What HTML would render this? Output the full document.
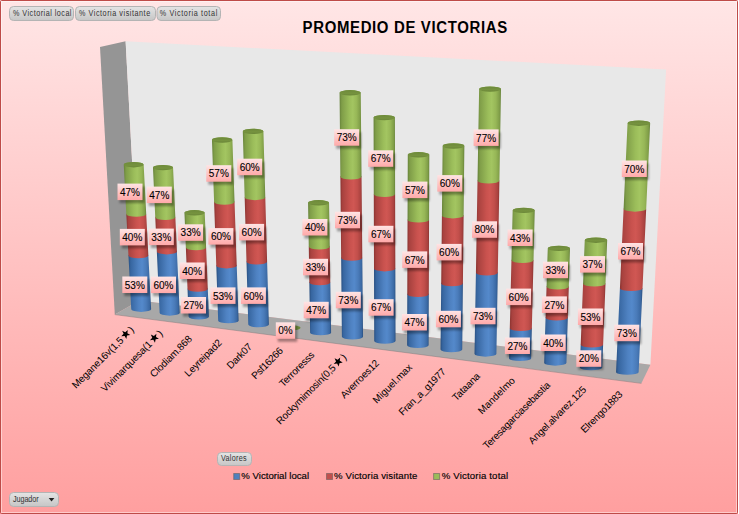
<!DOCTYPE html><html><head><meta charset="utf-8"><style>
html,body{margin:0;padding:0;background:#fff;}
svg{display:block;font-family:"Liberation Sans",sans-serif;}
</style></head><body>
<svg width="739" height="514" viewBox="0 0 739 514">
<defs>
<linearGradient id="bg" x1="0" y1="0" x2="0" y2="1">
<stop offset="0" stop-color="#ffe6e6"/><stop offset="1" stop-color="#ff9f9f"/></linearGradient>
<linearGradient id="btn" x1="0" y1="0" x2="0" y2="1">
<stop offset="0" stop-color="#e4e4e4"/><stop offset="1" stop-color="#c6c6c6"/></linearGradient>
<linearGradient id="lbl" x1="0" y1="0" x2="0" y2="1">
<stop offset="0" stop-color="#ffe4e4"/><stop offset="1" stop-color="#ffa9a9"/></linearGradient>
<filter id="sh" x="-30%" y="-30%" width="170%" height="190%"><feGaussianBlur stdDeviation="1.3"/></filter>

<linearGradient id="cb" x1="0" y1="0" x2="1" y2="0"><stop offset="0" stop-color="#294f80"/><stop offset="0.1" stop-color="#3766a0"/><stop offset="0.45" stop-color="#4f82c2"/><stop offset="0.6" stop-color="#5489cb"/><stop offset="0.78" stop-color="#4a7bb9"/><stop offset="0.93" stop-color="#3a68a2"/><stop offset="1" stop-color="#294f80"/></linearGradient>
<linearGradient id="cr" x1="0" y1="0" x2="1" y2="0"><stop offset="0" stop-color="#8a3431"/><stop offset="0.1" stop-color="#a8423f"/><stop offset="0.45" stop-color="#c9524e"/><stop offset="0.6" stop-color="#d05753"/><stop offset="0.78" stop-color="#c24f4b"/><stop offset="0.93" stop-color="#a9423f"/><stop offset="1" stop-color="#8a3431"/></linearGradient>
<linearGradient id="cg" x1="0" y1="0" x2="1" y2="0"><stop offset="0" stop-color="#66823a"/><stop offset="0.1" stop-color="#7f9d48"/><stop offset="0.45" stop-color="#9bbd5a"/><stop offset="0.6" stop-color="#a3c561"/><stop offset="0.78" stop-color="#97b757"/><stop offset="0.93" stop-color="#809e48"/><stop offset="1" stop-color="#66823a"/></linearGradient>
<linearGradient id="tg" x1="0" y1="0" x2="0" y2="1"><stop offset="0" stop-color="#6c883a"/><stop offset="0.6" stop-color="#76933f"/><stop offset="1" stop-color="#6a8638"/></linearGradient>
</defs>
<rect x="0" y="0" width="739" height="514" fill="url(#bg)"/>
<rect x="1.5" y="1.5" width="735" height="511" fill="none" stroke="#fff" stroke-opacity="0.45" stroke-width="1"/>
<rect x="0.5" y="0.5" width="737" height="513" rx="1" fill="none" stroke="#be4b48" stroke-width="1"/>
<rect x="738" y="0" width="1" height="514" fill="#fff"/>
<polygon points="100,47 125.6,41.3 139.6,300.5 114.8,314.5" fill="#959595"/>
<polygon points="125.6,41.3 666.1,69.6 650.4,364.8 139.6,300.5" fill="#e8e8e8"/>
<polygon points="139.6,300.5 650.4,364.8 641.4,383.3 114.8,314.5" fill="#a8a8a8"/>
<line x1="114.8" y1="314.6" x2="641.4" y2="383.4" stroke="#7a7a7a" stroke-width="0.8" stroke-opacity="0.6"/>
<path d="M128.46,255.47 A9.95,2.7 0 0 1 148.36,255.47 L151.14,309.21 A9.95,2.7 0 0 1 131.24,309.21 Z" fill="url(#cb)"/>
<path d="M126.32,214.14 A9.95,2.7 0 0 1 146.22,214.14 L148.36,255.47 A9.95,2.7 0 0 1 128.46,255.47 Z" fill="url(#cr)"/>
<path d="M123.76,164.70 A9.95,2.7 0 0 1 143.66,164.70 L146.22,214.14 A9.95,2.7 0 0 1 126.32,214.14 Z" fill="url(#cg)"/>
<ellipse cx="133.71" cy="164.70" rx="9.95" ry="2.7" fill="url(#tg)"/>
<path d="M156.84,251.68 A10.04,2.7 0 0 1 176.92,251.68 L179.74,312.96 A10.04,2.7 0 0 1 159.66,312.96 Z" fill="url(#cb)"/>
<path d="M155.26,217.34 A10.04,2.7 0 0 1 175.34,217.34 L176.92,251.68 A10.04,2.7 0 0 1 156.84,251.68 Z" fill="url(#cr)"/>
<path d="M152.97,167.60 A10.04,2.7 0 0 1 173.05,167.60 L175.34,217.34 A10.04,2.7 0 0 1 155.26,217.34 Z" fill="url(#cg)"/>
<ellipse cx="163.01" cy="167.60" rx="10.04" ry="2.7" fill="url(#tg)"/>
<path d="M187.53,289.12 A10.13,2.7 0 0 1 207.79,289.12 L208.90,316.77 A10.13,2.7 0 0 1 188.64,316.77 Z" fill="url(#cb)"/>
<path d="M185.86,247.59 A10.13,2.7 0 0 1 206.12,247.59 L207.79,289.12 A10.13,2.7 0 0 1 187.53,289.12 Z" fill="url(#cr)"/>
<path d="M184.46,212.80 A10.13,2.7 0 0 1 204.72,212.80 L206.12,247.59 A10.13,2.7 0 0 1 185.86,247.59 Z" fill="url(#cg)"/>
<ellipse cx="194.59" cy="212.80" rx="10.13" ry="2.7" fill="url(#tg)"/>
<path d="M216.29,265.70 A10.22,2.7 0 0 1 236.73,265.70 L238.62,320.65 A10.22,2.7 0 0 1 218.18,320.65 Z" fill="url(#cb)"/>
<path d="M214.10,202.01 A10.22,2.7 0 0 1 234.54,202.01 L236.73,265.70 A10.22,2.7 0 0 1 216.29,265.70 Z" fill="url(#cr)"/>
<path d="M211.97,140.00 A10.22,2.7 0 0 1 232.41,140.00 L234.54,202.01 A10.22,2.7 0 0 1 214.10,202.01 Z" fill="url(#cg)"/>
<ellipse cx="222.19" cy="140.00" rx="10.22" ry="2.7" fill="url(#tg)"/>
<path d="M246.49,261.82 A10.31,2.7 0 0 1 267.11,261.82 L268.89,324.59 A10.31,2.7 0 0 1 248.27,324.59 Z" fill="url(#cb)"/>
<path d="M244.67,197.44 A10.31,2.7 0 0 1 265.29,197.44 L267.11,261.82 A10.31,2.7 0 0 1 246.49,261.82 Z" fill="url(#cr)"/>
<path d="M242.80,131.40 A10.31,2.7 0 0 1 263.42,131.40 L265.29,197.44 A10.31,2.7 0 0 1 244.67,197.44 Z" fill="url(#cg)"/>
<ellipse cx="253.11" cy="131.40" rx="10.31" ry="2.7" fill="url(#tg)"/>
<ellipse cx="290.2" cy="327.8" rx="10.4" ry="2.7" fill="#6f8a3c"/>
<path d="M309.33,282.59 A10.49,2.7 0 0 1 330.31,282.59 L331.11,332.66 A10.49,2.7 0 0 1 310.13,332.66 Z" fill="url(#cb)"/>
<path d="M308.77,246.83 A10.49,2.7 0 0 1 329.75,246.83 L330.31,282.59 A10.49,2.7 0 0 1 309.33,282.59 Z" fill="url(#cr)"/>
<path d="M308.07,202.80 A10.49,2.7 0 0 1 329.05,202.80 L329.75,246.83 A10.49,2.7 0 0 1 308.77,246.83 Z" fill="url(#cg)"/>
<ellipse cx="318.56" cy="202.80" rx="10.49" ry="2.7" fill="url(#tg)"/>
<path d="M341.15,258.04 A10.58,2.7 0 0 1 362.31,258.04 L363.05,336.79 A10.58,2.7 0 0 1 341.89,336.79 Z" fill="url(#cb)"/>
<path d="M340.38,176.75 A10.58,2.7 0 0 1 361.54,176.75 L362.31,258.04 A10.58,2.7 0 0 1 341.15,258.04 Z" fill="url(#cr)"/>
<path d="M339.58,92.80 A10.58,2.7 0 0 1 360.74,92.80 L361.54,176.75 A10.58,2.7 0 0 1 340.38,176.75 Z" fill="url(#cg)"/>
<ellipse cx="350.16" cy="92.80" rx="10.58" ry="2.7" fill="url(#tg)"/>
<path d="M374.00,268.70 A10.67,2.7 0 0 1 395.34,268.70 L395.55,340.99 A10.67,2.7 0 0 1 374.21,340.99 Z" fill="url(#cb)"/>
<path d="M373.78,194.27 A10.67,2.7 0 0 1 395.12,194.27 L395.34,268.70 A10.67,2.7 0 0 1 374.00,268.70 Z" fill="url(#cr)"/>
<path d="M373.56,117.60 A10.67,2.7 0 0 1 394.90,117.60 L395.12,194.27 A10.67,2.7 0 0 1 373.78,194.27 Z" fill="url(#cg)"/>
<ellipse cx="384.23" cy="117.60" rx="10.67" ry="2.7" fill="url(#tg)"/>
<path d="M407.28,294.32 A10.76,2.7 0 0 1 428.80,294.32 L428.61,345.25 A10.76,2.7 0 0 1 407.09,345.25 Z" fill="url(#cb)"/>
<path d="M407.55,219.89 A10.76,2.7 0 0 1 429.07,219.89 L428.80,294.32 A10.76,2.7 0 0 1 407.28,294.32 Z" fill="url(#cr)"/>
<path d="M407.79,154.80 A10.76,2.7 0 0 1 429.31,154.80 L429.07,219.89 A10.76,2.7 0 0 1 407.55,219.89 Z" fill="url(#cg)"/>
<ellipse cx="418.55" cy="154.80" rx="10.76" ry="2.7" fill="url(#tg)"/>
<path d="M441.21,283.53 A10.85,2.7 0 0 1 462.91,283.53 L462.22,349.57 A10.85,2.7 0 0 1 440.52,349.57 Z" fill="url(#cb)"/>
<path d="M441.92,215.69 A10.85,2.7 0 0 1 463.62,215.69 L462.91,283.53 A10.85,2.7 0 0 1 441.21,283.53 Z" fill="url(#cr)"/>
<path d="M442.66,146.00 A10.85,2.7 0 0 1 464.36,146.00 L463.62,215.69 A10.85,2.7 0 0 1 441.92,215.69 Z" fill="url(#cg)"/>
<ellipse cx="453.51" cy="146.00" rx="10.85" ry="2.7" fill="url(#tg)"/>
<path d="M475.92,272.86 A10.94,2.7 0 0 1 497.80,272.86 L496.39,353.96 A10.94,2.7 0 0 1 474.51,353.96 Z" fill="url(#cb)"/>
<path d="M477.52,180.87 A10.94,2.7 0 0 1 499.40,180.87 L497.80,272.86 A10.94,2.7 0 0 1 475.92,272.86 Z" fill="url(#cr)"/>
<path d="M479.12,89.10 A10.94,2.7 0 0 1 501.00,89.10 L499.40,180.87 A10.94,2.7 0 0 1 477.52,180.87 Z" fill="url(#cg)"/>
<ellipse cx="490.06" cy="89.10" rx="10.94" ry="2.7" fill="url(#tg)"/>
<path d="M509.79,328.39 A11.03,2.7 0 0 1 531.85,328.39 L531.11,358.42 A11.03,2.7 0 0 1 509.05,358.42 Z" fill="url(#cb)"/>
<path d="M511.45,260.33 A11.03,2.7 0 0 1 533.51,260.33 L531.85,328.39 A11.03,2.7 0 0 1 509.79,328.39 Z" fill="url(#cr)"/>
<path d="M512.67,210.40 A11.03,2.7 0 0 1 534.73,210.40 L533.51,260.33 A11.03,2.7 0 0 1 511.45,260.33 Z" fill="url(#cg)"/>
<ellipse cx="523.70" cy="210.40" rx="11.03" ry="2.7" fill="url(#tg)"/>
<path d="M545.58,317.75 A11.12,2.7 0 0 1 567.82,317.75 L566.40,362.93 A11.12,2.7 0 0 1 544.16,362.93 Z" fill="url(#cb)"/>
<path d="M546.56,286.78 A11.12,2.7 0 0 1 568.80,286.78 L567.82,317.75 A11.12,2.7 0 0 1 545.58,317.75 Z" fill="url(#cr)"/>
<path d="M547.77,248.40 A11.12,2.7 0 0 1 570.01,248.40 L568.80,286.78 A11.12,2.7 0 0 1 546.56,286.78 Z" fill="url(#cg)"/>
<ellipse cx="558.89" cy="248.40" rx="11.12" ry="2.7" fill="url(#tg)"/>
<path d="M580.70,344.85 A11.21,2.7 0 0 1 603.12,344.85 L602.24,367.52 A11.21,2.7 0 0 1 579.82,367.52 Z" fill="url(#cb)"/>
<path d="M583.07,283.75 A11.21,2.7 0 0 1 605.49,283.75 L603.12,344.85 A11.21,2.7 0 0 1 580.70,344.85 Z" fill="url(#cr)"/>
<path d="M584.76,240.20 A11.21,2.7 0 0 1 607.18,240.20 L605.49,283.75 A11.21,2.7 0 0 1 583.07,283.75 Z" fill="url(#cg)"/>
<ellipse cx="595.97" cy="240.20" rx="11.21" ry="2.7" fill="url(#tg)"/>
<path d="M619.91,288.38 A11.30,2.7 0 0 1 642.51,288.38 L638.63,372.16 A11.30,2.7 0 0 1 616.03,372.16 Z" fill="url(#cb)"/>
<path d="M623.58,208.94 A11.30,2.7 0 0 1 646.18,208.94 L642.51,288.38 A11.30,2.7 0 0 1 619.91,288.38 Z" fill="url(#cr)"/>
<path d="M627.55,123.20 A11.30,2.7 0 0 1 650.15,123.20 L646.18,208.94 A11.30,2.7 0 0 1 623.58,208.94 Z" fill="url(#cg)"/>
<ellipse cx="638.85" cy="123.20" rx="11.30" ry="2.7" fill="url(#tg)"/>
<rect x="124.3" y="279.5" width="25" height="16.5" fill="#000" opacity="0.35" filter="url(#sh)"/>
<rect x="122.3" y="276.5" width="25" height="16.5" fill="url(#lbl)"/>
<text x="134.8" y="288.6" font-size="10" text-anchor="middle" fill="#000" stroke="#000" stroke-width="0.1">53%</text>
<rect x="121.8" y="231.9" width="25" height="16.5" fill="#000" opacity="0.35" filter="url(#sh)"/>
<rect x="119.8" y="228.9" width="25" height="16.5" fill="url(#lbl)"/>
<text x="132.3" y="241.0" font-size="10" text-anchor="middle" fill="#000" stroke="#000" stroke-width="0.1">40%</text>
<rect x="119.5" y="186.6" width="25" height="16.5" fill="#000" opacity="0.35" filter="url(#sh)"/>
<rect x="117.5" y="183.6" width="25" height="16.5" fill="url(#lbl)"/>
<text x="130.0" y="195.7" font-size="10" text-anchor="middle" fill="#000" stroke="#000" stroke-width="0.1">47%</text>
<rect x="153.0" y="279.6" width="25" height="16.5" fill="#000" opacity="0.35" filter="url(#sh)"/>
<rect x="151.0" y="276.6" width="25" height="16.5" fill="url(#lbl)"/>
<text x="163.5" y="288.7" font-size="10" text-anchor="middle" fill="#000" stroke="#000" stroke-width="0.1">60%</text>
<rect x="150.8" y="231.6" width="25" height="16.5" fill="#000" opacity="0.35" filter="url(#sh)"/>
<rect x="148.8" y="228.6" width="25" height="16.5" fill="url(#lbl)"/>
<text x="161.3" y="240.7" font-size="10" text-anchor="middle" fill="#000" stroke="#000" stroke-width="0.1">33%</text>
<rect x="148.8" y="189.6" width="25" height="16.5" fill="#000" opacity="0.35" filter="url(#sh)"/>
<rect x="146.8" y="186.6" width="25" height="16.5" fill="url(#lbl)"/>
<text x="159.3" y="198.7" font-size="10" text-anchor="middle" fill="#000" stroke="#000" stroke-width="0.1">47%</text>
<rect x="183.0" y="300.0" width="25" height="16.5" fill="#000" opacity="0.35" filter="url(#sh)"/>
<rect x="181.0" y="297.0" width="25" height="16.5" fill="url(#lbl)"/>
<text x="193.5" y="309.1" font-size="10" text-anchor="middle" fill="#000" stroke="#000" stroke-width="0.1">27%</text>
<rect x="181.7" y="265.5" width="25" height="16.5" fill="#000" opacity="0.35" filter="url(#sh)"/>
<rect x="179.7" y="262.5" width="25" height="16.5" fill="url(#lbl)"/>
<text x="192.2" y="274.6" font-size="10" text-anchor="middle" fill="#000" stroke="#000" stroke-width="0.1">40%</text>
<rect x="180.1" y="227.3" width="25" height="16.5" fill="#000" opacity="0.35" filter="url(#sh)"/>
<rect x="178.1" y="224.3" width="25" height="16.5" fill="url(#lbl)"/>
<text x="190.6" y="236.4" font-size="10" text-anchor="middle" fill="#000" stroke="#000" stroke-width="0.1">33%</text>
<rect x="212.5" y="290.4" width="25" height="16.5" fill="#000" opacity="0.35" filter="url(#sh)"/>
<rect x="210.5" y="287.4" width="25" height="16.5" fill="url(#lbl)"/>
<text x="223.0" y="299.5" font-size="10" text-anchor="middle" fill="#000" stroke="#000" stroke-width="0.1">53%</text>
<rect x="210.4" y="231.1" width="25" height="16.5" fill="#000" opacity="0.35" filter="url(#sh)"/>
<rect x="208.4" y="228.1" width="25" height="16.5" fill="url(#lbl)"/>
<text x="220.9" y="240.2" font-size="10" text-anchor="middle" fill="#000" stroke="#000" stroke-width="0.1">60%</text>
<rect x="208.3" y="168.2" width="25" height="16.5" fill="#000" opacity="0.35" filter="url(#sh)"/>
<rect x="206.3" y="165.2" width="25" height="16.5" fill="url(#lbl)"/>
<text x="218.8" y="177.3" font-size="10" text-anchor="middle" fill="#000" stroke="#000" stroke-width="0.1">57%</text>
<rect x="242.9" y="290.4" width="25" height="16.5" fill="#000" opacity="0.35" filter="url(#sh)"/>
<rect x="240.9" y="287.4" width="25" height="16.5" fill="url(#lbl)"/>
<text x="253.4" y="299.5" font-size="10" text-anchor="middle" fill="#000" stroke="#000" stroke-width="0.1">60%</text>
<rect x="241.1" y="226.9" width="25" height="16.5" fill="#000" opacity="0.35" filter="url(#sh)"/>
<rect x="239.1" y="223.9" width="25" height="16.5" fill="url(#lbl)"/>
<text x="251.6" y="236.0" font-size="10" text-anchor="middle" fill="#000" stroke="#000" stroke-width="0.1">60%</text>
<rect x="239.2" y="161.7" width="25" height="16.5" fill="#000" opacity="0.35" filter="url(#sh)"/>
<rect x="237.2" y="158.7" width="25" height="16.5" fill="url(#lbl)"/>
<text x="249.7" y="170.8" font-size="10" text-anchor="middle" fill="#000" stroke="#000" stroke-width="0.1">60%</text>
<rect x="277.8" y="325.3" width="19.4" height="16.5" fill="#000" opacity="0.35" filter="url(#sh)"/>
<rect x="275.8" y="322.3" width="19.4" height="16.5" fill="url(#lbl)"/>
<text x="285.5" y="334.4" font-size="10" text-anchor="middle" fill="#000" stroke="#000" stroke-width="0.1">0%</text>
<rect x="305.7" y="304.8" width="25" height="16.5" fill="#000" opacity="0.35" filter="url(#sh)"/>
<rect x="303.7" y="301.8" width="25" height="16.5" fill="url(#lbl)"/>
<text x="316.2" y="313.9" font-size="10" text-anchor="middle" fill="#000" stroke="#000" stroke-width="0.1">47%</text>
<rect x="305.0" y="261.8" width="25" height="16.5" fill="#000" opacity="0.35" filter="url(#sh)"/>
<rect x="303.0" y="258.8" width="25" height="16.5" fill="url(#lbl)"/>
<text x="315.5" y="270.9" font-size="10" text-anchor="middle" fill="#000" stroke="#000" stroke-width="0.1">33%</text>
<rect x="304.4" y="222.0" width="25" height="16.5" fill="#000" opacity="0.35" filter="url(#sh)"/>
<rect x="302.4" y="219.0" width="25" height="16.5" fill="url(#lbl)"/>
<text x="314.9" y="231.1" font-size="10" text-anchor="middle" fill="#000" stroke="#000" stroke-width="0.1">40%</text>
<rect x="337.8" y="294.8" width="25" height="16.5" fill="#000" opacity="0.35" filter="url(#sh)"/>
<rect x="335.8" y="291.8" width="25" height="16.5" fill="url(#lbl)"/>
<text x="348.3" y="303.9" font-size="10" text-anchor="middle" fill="#000" stroke="#000" stroke-width="0.1">73%</text>
<rect x="337.0" y="214.8" width="25" height="16.5" fill="#000" opacity="0.35" filter="url(#sh)"/>
<rect x="335.0" y="211.8" width="25" height="16.5" fill="url(#lbl)"/>
<text x="347.5" y="223.9" font-size="10" text-anchor="middle" fill="#000" stroke="#000" stroke-width="0.1">73%</text>
<rect x="336.2" y="132.2" width="25" height="16.5" fill="#000" opacity="0.35" filter="url(#sh)"/>
<rect x="334.2" y="129.2" width="25" height="16.5" fill="url(#lbl)"/>
<text x="346.7" y="141.3" font-size="10" text-anchor="middle" fill="#000" stroke="#000" stroke-width="0.1">73%</text>
<rect x="370.6" y="302.2" width="25" height="16.5" fill="#000" opacity="0.35" filter="url(#sh)"/>
<rect x="368.6" y="299.2" width="25" height="16.5" fill="url(#lbl)"/>
<text x="381.1" y="311.3" font-size="10" text-anchor="middle" fill="#000" stroke="#000" stroke-width="0.1">67%</text>
<rect x="370.4" y="228.8" width="25" height="16.5" fill="#000" opacity="0.35" filter="url(#sh)"/>
<rect x="368.4" y="225.8" width="25" height="16.5" fill="url(#lbl)"/>
<text x="380.9" y="237.9" font-size="10" text-anchor="middle" fill="#000" stroke="#000" stroke-width="0.1">67%</text>
<rect x="370.2" y="153.3" width="25" height="16.5" fill="#000" opacity="0.35" filter="url(#sh)"/>
<rect x="368.2" y="150.3" width="25" height="16.5" fill="url(#lbl)"/>
<text x="380.7" y="162.4" font-size="10" text-anchor="middle" fill="#000" stroke="#000" stroke-width="0.1">67%</text>
<rect x="403.9" y="317.0" width="25" height="16.5" fill="#000" opacity="0.35" filter="url(#sh)"/>
<rect x="401.9" y="314.0" width="25" height="16.5" fill="url(#lbl)"/>
<text x="414.4" y="326.1" font-size="10" text-anchor="middle" fill="#000" stroke="#000" stroke-width="0.1">47%</text>
<rect x="404.2" y="254.4" width="25" height="16.5" fill="#000" opacity="0.35" filter="url(#sh)"/>
<rect x="402.2" y="251.4" width="25" height="16.5" fill="url(#lbl)"/>
<text x="414.7" y="263.5" font-size="10" text-anchor="middle" fill="#000" stroke="#000" stroke-width="0.1">67%</text>
<rect x="404.4" y="184.6" width="25" height="16.5" fill="#000" opacity="0.35" filter="url(#sh)"/>
<rect x="402.4" y="181.6" width="25" height="16.5" fill="url(#lbl)"/>
<text x="414.9" y="193.7" font-size="10" text-anchor="middle" fill="#000" stroke="#000" stroke-width="0.1">57%</text>
<rect x="437.9" y="313.8" width="25" height="16.5" fill="#000" opacity="0.35" filter="url(#sh)"/>
<rect x="435.9" y="310.8" width="25" height="16.5" fill="url(#lbl)"/>
<text x="448.4" y="322.9" font-size="10" text-anchor="middle" fill="#000" stroke="#000" stroke-width="0.1">60%</text>
<rect x="438.6" y="246.9" width="25" height="16.5" fill="#000" opacity="0.35" filter="url(#sh)"/>
<rect x="436.6" y="243.9" width="25" height="16.5" fill="url(#lbl)"/>
<text x="449.1" y="256.0" font-size="10" text-anchor="middle" fill="#000" stroke="#000" stroke-width="0.1">60%</text>
<rect x="439.3" y="178.1" width="25" height="16.5" fill="#000" opacity="0.35" filter="url(#sh)"/>
<rect x="437.3" y="175.1" width="25" height="16.5" fill="url(#lbl)"/>
<text x="449.8" y="187.2" font-size="10" text-anchor="middle" fill="#000" stroke="#000" stroke-width="0.1">60%</text>
<rect x="472.5" y="310.8" width="25" height="16.5" fill="#000" opacity="0.35" filter="url(#sh)"/>
<rect x="470.5" y="307.8" width="25" height="16.5" fill="url(#lbl)"/>
<text x="483.0" y="319.9" font-size="10" text-anchor="middle" fill="#000" stroke="#000" stroke-width="0.1">73%</text>
<rect x="474.0" y="224.3" width="25" height="16.5" fill="#000" opacity="0.35" filter="url(#sh)"/>
<rect x="472.0" y="221.3" width="25" height="16.5" fill="url(#lbl)"/>
<text x="484.5" y="233.4" font-size="10" text-anchor="middle" fill="#000" stroke="#000" stroke-width="0.1">80%</text>
<rect x="475.6" y="132.4" width="25" height="16.5" fill="#000" opacity="0.35" filter="url(#sh)"/>
<rect x="473.6" y="129.4" width="25" height="16.5" fill="url(#lbl)"/>
<text x="486.1" y="141.5" font-size="10" text-anchor="middle" fill="#000" stroke="#000" stroke-width="0.1">77%</text>
<rect x="506.9" y="340.5" width="25" height="16.5" fill="#000" opacity="0.35" filter="url(#sh)"/>
<rect x="504.9" y="337.5" width="25" height="16.5" fill="url(#lbl)"/>
<text x="517.4" y="349.6" font-size="10" text-anchor="middle" fill="#000" stroke="#000" stroke-width="0.1">27%</text>
<rect x="508.1" y="291.6" width="25" height="16.5" fill="#000" opacity="0.35" filter="url(#sh)"/>
<rect x="506.1" y="288.6" width="25" height="16.5" fill="url(#lbl)"/>
<text x="518.6" y="300.7" font-size="10" text-anchor="middle" fill="#000" stroke="#000" stroke-width="0.1">60%</text>
<rect x="509.6" y="232.5" width="25" height="16.5" fill="#000" opacity="0.35" filter="url(#sh)"/>
<rect x="507.6" y="229.5" width="25" height="16.5" fill="url(#lbl)"/>
<text x="520.1" y="241.6" font-size="10" text-anchor="middle" fill="#000" stroke="#000" stroke-width="0.1">43%</text>
<rect x="542.7" y="337.5" width="25" height="16.5" fill="#000" opacity="0.35" filter="url(#sh)"/>
<rect x="540.7" y="334.5" width="25" height="16.5" fill="url(#lbl)"/>
<text x="553.2" y="346.6" font-size="10" text-anchor="middle" fill="#000" stroke="#000" stroke-width="0.1">40%</text>
<rect x="543.9" y="299.4" width="25" height="16.5" fill="#000" opacity="0.35" filter="url(#sh)"/>
<rect x="541.9" y="296.4" width="25" height="16.5" fill="url(#lbl)"/>
<text x="554.4" y="308.5" font-size="10" text-anchor="middle" fill="#000" stroke="#000" stroke-width="0.1">27%</text>
<rect x="545.0" y="264.7" width="25" height="16.5" fill="#000" opacity="0.35" filter="url(#sh)"/>
<rect x="543.0" y="261.7" width="25" height="16.5" fill="url(#lbl)"/>
<text x="555.5" y="273.8" font-size="10" text-anchor="middle" fill="#000" stroke="#000" stroke-width="0.1">33%</text>
<rect x="578.3" y="353.3" width="25" height="16.5" fill="#000" opacity="0.35" filter="url(#sh)"/>
<rect x="576.3" y="350.3" width="25" height="16.5" fill="url(#lbl)"/>
<text x="588.8" y="362.4" font-size="10" text-anchor="middle" fill="#000" stroke="#000" stroke-width="0.1">20%</text>
<rect x="579.9" y="311.5" width="25" height="16.5" fill="#000" opacity="0.35" filter="url(#sh)"/>
<rect x="577.9" y="308.5" width="25" height="16.5" fill="url(#lbl)"/>
<text x="590.4" y="320.6" font-size="10" text-anchor="middle" fill="#000" stroke="#000" stroke-width="0.1">53%</text>
<rect x="582.0" y="259.1" width="25" height="16.5" fill="#000" opacity="0.35" filter="url(#sh)"/>
<rect x="580.0" y="256.1" width="25" height="16.5" fill="url(#lbl)"/>
<text x="592.5" y="268.2" font-size="10" text-anchor="middle" fill="#000" stroke="#000" stroke-width="0.1">37%</text>
<rect x="616.3" y="327.7" width="25" height="16.5" fill="#000" opacity="0.35" filter="url(#sh)"/>
<rect x="614.3" y="324.7" width="25" height="16.5" fill="url(#lbl)"/>
<text x="626.8" y="336.8" font-size="10" text-anchor="middle" fill="#000" stroke="#000" stroke-width="0.1">73%</text>
<rect x="620.0" y="246.0" width="25" height="16.5" fill="#000" opacity="0.35" filter="url(#sh)"/>
<rect x="618.0" y="243.0" width="25" height="16.5" fill="url(#lbl)"/>
<text x="630.5" y="255.1" font-size="10" text-anchor="middle" fill="#000" stroke="#000" stroke-width="0.1">67%</text>
<rect x="623.8" y="163.5" width="25" height="16.5" fill="#000" opacity="0.35" filter="url(#sh)"/>
<rect x="621.8" y="160.5" width="25" height="16.5" fill="url(#lbl)"/>
<text x="634.3" y="172.6" font-size="10" text-anchor="middle" fill="#000" stroke="#000" stroke-width="0.1">70%</text>
<text x="0" y="0" transform="translate(302.6,33.3) scale(0.88,1)" font-size="17" font-weight="bold" textLength="232.4" lengthAdjust="spacing" fill="#000">PROMEDIO DE VICTORIAS</text>
<rect x="9.5" y="6.5" width="64" height="14" rx="4" fill="url(#btn)" stroke="#b4b4b4" stroke-width="1"/>
<text x="0" y="0" transform="translate(13,16.4) scale(0.8,1)" font-size="9" fill="#333" textLength="73.1" lengthAdjust="spacing">% Victorial local</text>
<rect x="75.5" y="6.5" width="80" height="14" rx="4" fill="url(#btn)" stroke="#b4b4b4" stroke-width="1"/>
<text x="0" y="0" transform="translate(79.1,16.4) scale(0.8,1)" font-size="9" fill="#333" textLength="88.8" lengthAdjust="spacing">% Victoria visitante</text>
<rect x="157.0" y="6.5" width="63.5" height="14" rx="4" fill="url(#btn)" stroke="#b4b4b4" stroke-width="1"/>
<text x="0" y="0" transform="translate(159.8,16.4) scale(0.8,1)" font-size="9" fill="#333" textLength="71.8" lengthAdjust="spacing">% Victoria total</text>
<rect x="217.5" y="452.5" width="34" height="13" rx="4" fill="url(#btn)" stroke="#b4b4b4" stroke-width="1"/>
<text x="0" y="0" transform="translate(221,461.4) scale(0.8,1)" font-size="9" fill="#333" textLength="31.9" lengthAdjust="spacing">Valores</text>
<rect x="9.5" y="492.5" width="49" height="14" rx="4" fill="url(#btn)" stroke="#b4b4b4" stroke-width="1"/>
<text x="0" y="0" transform="translate(13,502.4) scale(0.8,1)" font-size="9" fill="#333" textLength="32.0" lengthAdjust="spacing">Jugador</text>
<polygon points="48.7,498 54.4,498 51.55,501.5" fill="#222"/>
<rect x="233.7" y="473.5" width="6" height="6" fill="#4f81bd" stroke="#555" stroke-opacity="0.5" stroke-width="1"/>
<text x="241.3" y="478.8" font-size="9.6" fill="#000" stroke="#000" stroke-width="0.15" textLength="67.8" lengthAdjust="spacing">% Victorial local</text>
<rect x="326.5" y="473.5" width="6" height="6" fill="#c0504d" stroke="#555" stroke-opacity="0.5" stroke-width="1"/>
<text x="334.1" y="478.8" font-size="9.6" fill="#000" stroke="#000" stroke-width="0.15" textLength="83.3" lengthAdjust="spacing">% Victoria visitante</text>
<rect x="433.6" y="473.5" width="6" height="6" fill="#9bbb59" stroke="#555" stroke-opacity="0.5" stroke-width="1"/>
<text x="441.8" y="478.8" font-size="9.6" fill="#000" stroke="#000" stroke-width="0.15" textLength="66.3" lengthAdjust="spacing">% Victoria total</text>
<g transform="rotate(-45 134.7 330.4)">
<text x="134.7" y="330.4" font-size="10" text-anchor="end" fill="#000">)</text>
<polygon points="125.59,321.81 126.76,325.00 130.15,325.13 127.49,327.23 128.41,330.50 125.59,328.61 122.77,330.50 123.69,327.23 121.02,325.13 124.41,325.00" fill="#000"/>
<text x="119.7" y="330.4" font-size="10" text-anchor="end" fill="#000" textLength="67.9" lengthAdjust="spacing">Megane16v(1,5</text>
</g>
<g transform="rotate(-45 163.4 334.2)">
<text x="163.4" y="334.2" font-size="10" text-anchor="end" fill="#000">)</text>
<polygon points="154.27,325.56 155.44,328.74 158.83,328.88 156.17,330.98 157.09,334.24 154.27,332.36 151.45,334.24 152.36,330.98 149.70,328.88 153.09,328.74" fill="#000"/>
<text x="148.4" y="334.2" font-size="10" text-anchor="end" fill="#000" textLength="67.6" lengthAdjust="spacing">Vivimarquesa(1</text>
</g>
<g transform="rotate(-45 192.6 339.6)">
<text x="192.6" y="339.6" font-size="10" text-anchor="end" fill="#000" textLength="54.4" lengthAdjust="spacing">Clodiam.868</text>
</g>
<g transform="rotate(-45 222.4 343.4)">
<text x="222.4" y="343.4" font-size="10" text-anchor="end" fill="#000" textLength="47.8" lengthAdjust="spacing">Leyreipad2</text>
</g>
<g transform="rotate(-45 252.7 347.4)">
<text x="252.7" y="347.4" font-size="10" text-anchor="end" fill="#000" textLength="31.1" lengthAdjust="spacing">Dark07</text>
</g>
<g transform="rotate(-45 283.7 351.4)">
<text x="283.7" y="351.4" font-size="10" text-anchor="end" fill="#000" textLength="40.0" lengthAdjust="spacing">Psf16266</text>
</g>
<g transform="rotate(-45 315.1 355.5)">
<text x="315.1" y="355.5" font-size="10" text-anchor="end" fill="#000" textLength="45.1" lengthAdjust="spacing">Terroresss</text>
</g>
<g transform="rotate(-45 347.1 358.0)">
<text x="347.1" y="358.0" font-size="10" text-anchor="end" fill="#000">)</text>
<polygon points="338.03,349.39 339.21,352.57 342.60,352.71 339.94,354.81 340.86,358.07 338.03,356.19 335.21,358.07 336.13,354.81 333.47,352.71 336.86,352.57" fill="#000"/>
<text x="332.2" y="358.0" font-size="10" text-anchor="end" fill="#000" textLength="79.7" lengthAdjust="spacing">Rockymimosin(0,5</text>
</g>
<g transform="rotate(-45 379.7 363.8)">
<text x="379.7" y="363.8" font-size="10" text-anchor="end" fill="#000" textLength="49.7" lengthAdjust="spacing">Averroes12</text>
</g>
<g transform="rotate(-45 412.8 368.0)">
<text x="412.8" y="368.0" font-size="10" text-anchor="end" fill="#000" textLength="50.9" lengthAdjust="spacing">Miguel.max</text>
</g>
<g transform="rotate(-45 446.5 372.4)">
<text x="446.5" y="372.4" font-size="10" text-anchor="end" fill="#000" textLength="61.7" lengthAdjust="spacing">Fran_a_g1977</text>
</g>
<g transform="rotate(-45 480.8 376.8)">
<text x="480.8" y="376.8" font-size="10" text-anchor="end" fill="#000" textLength="34.8" lengthAdjust="spacing">Tataana</text>
</g>
<g transform="rotate(-45 515.6 381.2)">
<text x="515.6" y="381.2" font-size="10" text-anchor="end" fill="#000" textLength="47.4" lengthAdjust="spacing">Mandelmo</text>
</g>
<g transform="rotate(-45 550.9 385.7)">
<text x="550.9" y="385.7" font-size="10" text-anchor="end" fill="#000" textLength="90.3" lengthAdjust="spacing">Teresagarciasebastia</text>
</g>
<g transform="rotate(-45 586.9 390.3)">
<text x="586.9" y="390.3" font-size="10" text-anchor="end" fill="#000" textLength="76.9" lengthAdjust="spacing">Angel.alvarez.125</text>
</g>
<g transform="rotate(-45 623.3 395.0)">
<text x="623.3" y="395.0" font-size="10" text-anchor="end" fill="#000" textLength="54.6" lengthAdjust="spacing">Elrengo1883</text>
</g>
</svg></body></html>
